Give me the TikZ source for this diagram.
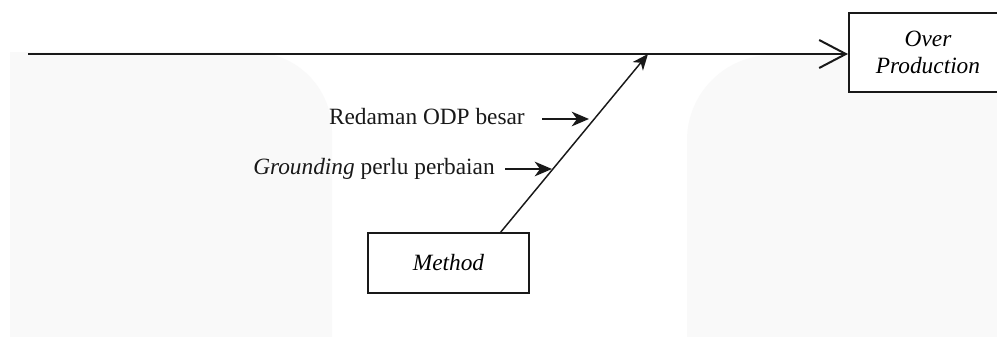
\documentclass[tikz,border=0pt]{standalone}
\usepackage{fontspec}
\setmainfont{Liberation Serif}
\usetikzlibrary{arrows.meta,calc}
\definecolor{bgc}{RGB}{249,249,249}
\definecolor{ink}{RGB}{25,25,25}
\begin{document}
\begin{tikzpicture}[x=0.75pt,y=-0.75pt,
  box/.style={draw=ink,line width=1.5pt,fill=white,inner sep=0pt,align=center,font=\fontsize{17.5}{20.5}\selectfont\itshape},
  lbl/.style={inner sep=0pt,font=\fontsize{17.5}{20}\selectfont,text=ink},
  spine/.style={draw=ink,line width=1.5pt,-{Straight Barb[length=20pt,width=21pt,line width=1.5pt]}},
  bone/.style={draw=ink,line width=1.1pt,-{Stealth[length=12pt,width=10pt,inset=3.5pt]}},
  sub/.style={draw=ink,line width=1.5pt,-{Stealth[length=13pt,width=11pt,inset=4pt]}}]
\useasboundingbox (0,0) rectangle (997,336);
\clip (0,0) rectangle (997,336);
\fill[white] (0,0) rectangle (997,336);
% faint background shapes
\fill[bgc] (10,400) -- (10,52) [rounded corners=60pt] -- (332,52) [sharp corners] -- (332,400) -- cycle;
\fill[bgc] (1010,400) -- (1010,55) [rounded corners=64pt] -- (687,55) [sharp corners] -- (687,400) -- cycle;
% nodes
\node[box,minimum width=118.5pt,minimum height=59.25pt] (op) at (928,52.5) {Over\\Production};
\node[box,minimum width=120.75pt,minimum height=45pt] (m) at (448.5,263) {Method};
\node[lbl,anchor=base east] (l1) at (525,124) {Redaman ODP besar};
\node[lbl,anchor=base east] (l2) at (495,174) {\textit{Grounding} perlu perbaian};
% coordinates
\coordinate (s) at (28,54);
\coordinate (tip) at (648,54);
\coordinate (mt) at (500,233);
\coordinate (a1) at (589,119);
\coordinate (a2) at (552,169);
% connectors
\draw[spine] (s) -- (s -| op.west);
\draw[bone] (mt) -- (tip);
\draw[sub] ($(a1 -| l1.east)+(12.75pt,0)$) -- (a1);
\draw[sub] ($(a2 -| l2.east)+(7.5pt,0)$) -- (a2);
\end{tikzpicture}
\end{document}
